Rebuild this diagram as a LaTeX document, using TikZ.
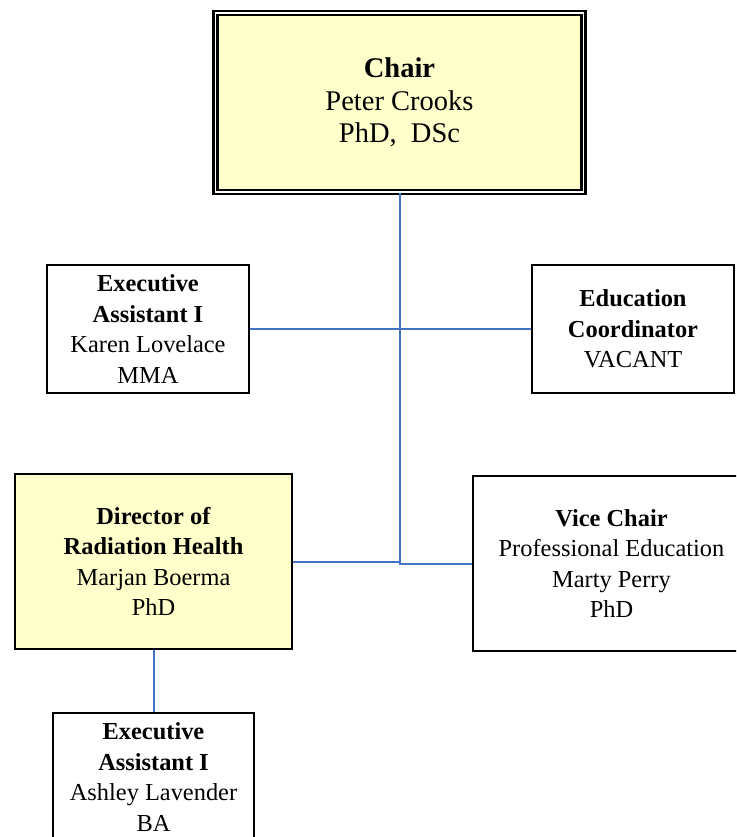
\documentclass[tikz,border=0pt]{standalone}
\usepackage{fontspec}
\setmainfont{Liberation Serif}
\definecolor{paleyellow}{RGB}{255,255,204}
\definecolor{linkblue}{RGB}{68,114,196}
\begin{document}
\begin{tikzpicture}[x=1pt,y=-1pt]
\clip (0,0) rectangle (736,837);
\tikzstyle{every node}=[draw,line width=1.5pt,shape=rectangle,align=center,inner sep=0pt,font=\fontsize{24.4}{30.5}\selectfont];
\node[fill=paleyellow,double,line width=2.2pt,double distance=1.8pt,minimum width=368,minimum height=179,font=\fontsize{28.5}{32.5}\selectfont] (c) at (399.5,102.5) {\textbf{Chair}\\Peter Crooks\\PhD,\ \ DSc};
\node[minimum width=202,minimum height=128] (ea) at (148,329) {\textbf{Executive}\\\textbf{Assistant I}\\Karen Lovelace\\MMA};
\node[minimum width=202,minimum height=128] (ec) at (633,329) {\textbf{Education}\\\textbf{Coordinator}\\VACANT};
\node[fill=paleyellow,minimum width=277,minimum height=175] (dr) at (153.5,561.5) {\textbf{Director of}\\\textbf{Radiation Health}\\Marjan Boerma\\PhD};
\node[minimum width=277,minimum height=175] (vc) at (611.5,563.5) {\textbf{Vice Chair}\\Professional Education\\Marty Perry\\PhD};
\node[minimum width=201,minimum height=128] (ea2) at (153.5,777) {\textbf{Executive}\\\textbf{Assistant I}\\Ashley Lavender\\BA};
\draw[line width=2pt,linkblue](c.south) -- (c.south |- vc.west)
(ea.east) -- (ec.west)
(dr.east) -- (dr.east -| c.south) -- (c.south |- vc.west) -- (vc.west)
(dr.south) -- (ea2.north);
\end{tikzpicture}
\end{document}
